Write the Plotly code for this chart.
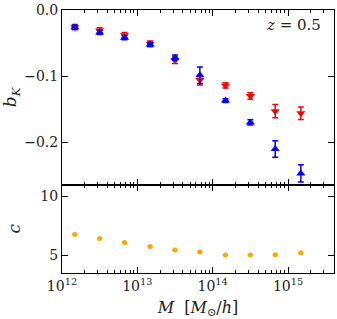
import plotly.graph_objects as go

log_mass = [12.17, 12.5, 12.83, 13.17, 13.5, 13.83, 14.17, 14.5, 14.83, 15.17]
mass = [10 ** v for v in log_mass]

bk_red = [-0.026, -0.031, -0.038, -0.051, -0.076, -0.106, -0.114, -0.130, -0.153, -0.156]
bk_red_err = [0.004, 0.004, 0.004, 0.004, 0.005, 0.0075, 0.004, 0.005, 0.010, 0.0095]
bk_blue = [-0.026, -0.034, -0.042, -0.052, -0.072, -0.0985, -0.137, -0.170, -0.210, -0.247]
bk_blue_err = [0.003, 0.003, 0.003, 0.003, 0.004, 0.0125, 0.003, 0.004, 0.0125, 0.013]
conc = [6.76, 6.42, 6.08, 5.74, 5.43, 5.26, 5.0, 5.0, 5.03, 5.2]

x_ticks = [1e12, 1e13, 1e14, 1e15]
x_ticktext = ["10<sup>12</sup>", "10<sup>13</sup>", "10<sup>14</sup>", "10<sup>15</sup>"]
minor_ticks = [m * 10 ** e for e in (12, 13, 14, 15) for m in range(2, 10)]

FONT = "'DejaVu Serif', serif"

fig = go.Figure()
fig.add_trace(go.Scatter(
    x=mass, y=bk_red, mode="markers",
    marker=dict(symbol="triangle-down", color="red", size=8),
    error_y=dict(type="data", array=bk_red_err, color="red", thickness=1.5, width=3),
    xaxis="x2", yaxis="y2", showlegend=False))
fig.add_trace(go.Scatter(
    x=mass, y=bk_blue, mode="markers",
    marker=dict(symbol="triangle-up", color="blue", size=8),
    error_y=dict(type="data", array=bk_blue_err, color="blue", thickness=1.5, width=3),
    xaxis="x2", yaxis="y2", showlegend=False))
fig.add_trace(go.Scatter(
    x=mass, y=conc, mode="markers",
    marker=dict(symbol="circle", color="orange", size=5),
    error_x=dict(type="percent", value=8, color="orange", thickness=1.5, width=0),
    xaxis="x", yaxis="y", showlegend=False))

axis_common = dict(showline=True, linecolor="black", linewidth=1, mirror="allticks",
                   ticks="inside", tickcolor="black", showgrid=False, zeroline=False,
                   automargin=False,
                   tickfont=dict(family=FONT, size=14, color="#222"))
minor_common = dict(ticks="inside", ticklen=3, tickcolor="black", showgrid=False,
                    tickvals=minor_ticks)

fig.update_layout(
    width=337, height=319,
    margin=dict(l=62, r=3, t=10, b=46),
    paper_bgcolor="white", plot_bgcolor="white",
    font=dict(family=FONT, size=14, color="#222"),
    xaxis=dict(type="log", range=[12, 15.61], tickvals=x_ticks, ticktext=x_ticktext,
               ticklen=6, anchor="y", minor=minor_common,
               title=dict(text="<i>M</i>  [<i>M</i><sub>⊙</sub>/<i>h</i>]",
                          font=dict(family=FONT, size=16)),
               **axis_common),
    xaxis2=dict(type="log", range=[12, 15.61], tickvals=x_ticks, showticklabels=False,
                ticklen=6, anchor="y2", matches="x", minor=minor_common,
                **axis_common),
    yaxis=dict(domain=[0, 0.336], range=[3.47, 11.02], tickvals=[5, 10], ticklen=6,
               anchor="x",
               title=dict(text="<i>c</i>", font=dict(family=FONT, size=17)),
               **axis_common),
    yaxis2=dict(domain=[0.336, 1], range=[-0.264, 0], tickvals=[0, -0.1, -0.2],
                tickformat=".1f", ticklen=6, anchor="x2",
                title=dict(text="<i>b</i><sub><i>K</i></sub>",
                           font=dict(family=FONT, size=17)),
                **axis_common),
    annotations=[dict(text="<i>z</i> = 0.5", xref="paper", yref="paper", x=0.96, y=0.985,
                      xanchor="right", yanchor="top", showarrow=False,
                      font=dict(family=FONT, size=15, color="#222"))],
)

fig.write_html("out.html", config={"displayModeBar": False},
               post_script="document.body.style.margin='0';")
